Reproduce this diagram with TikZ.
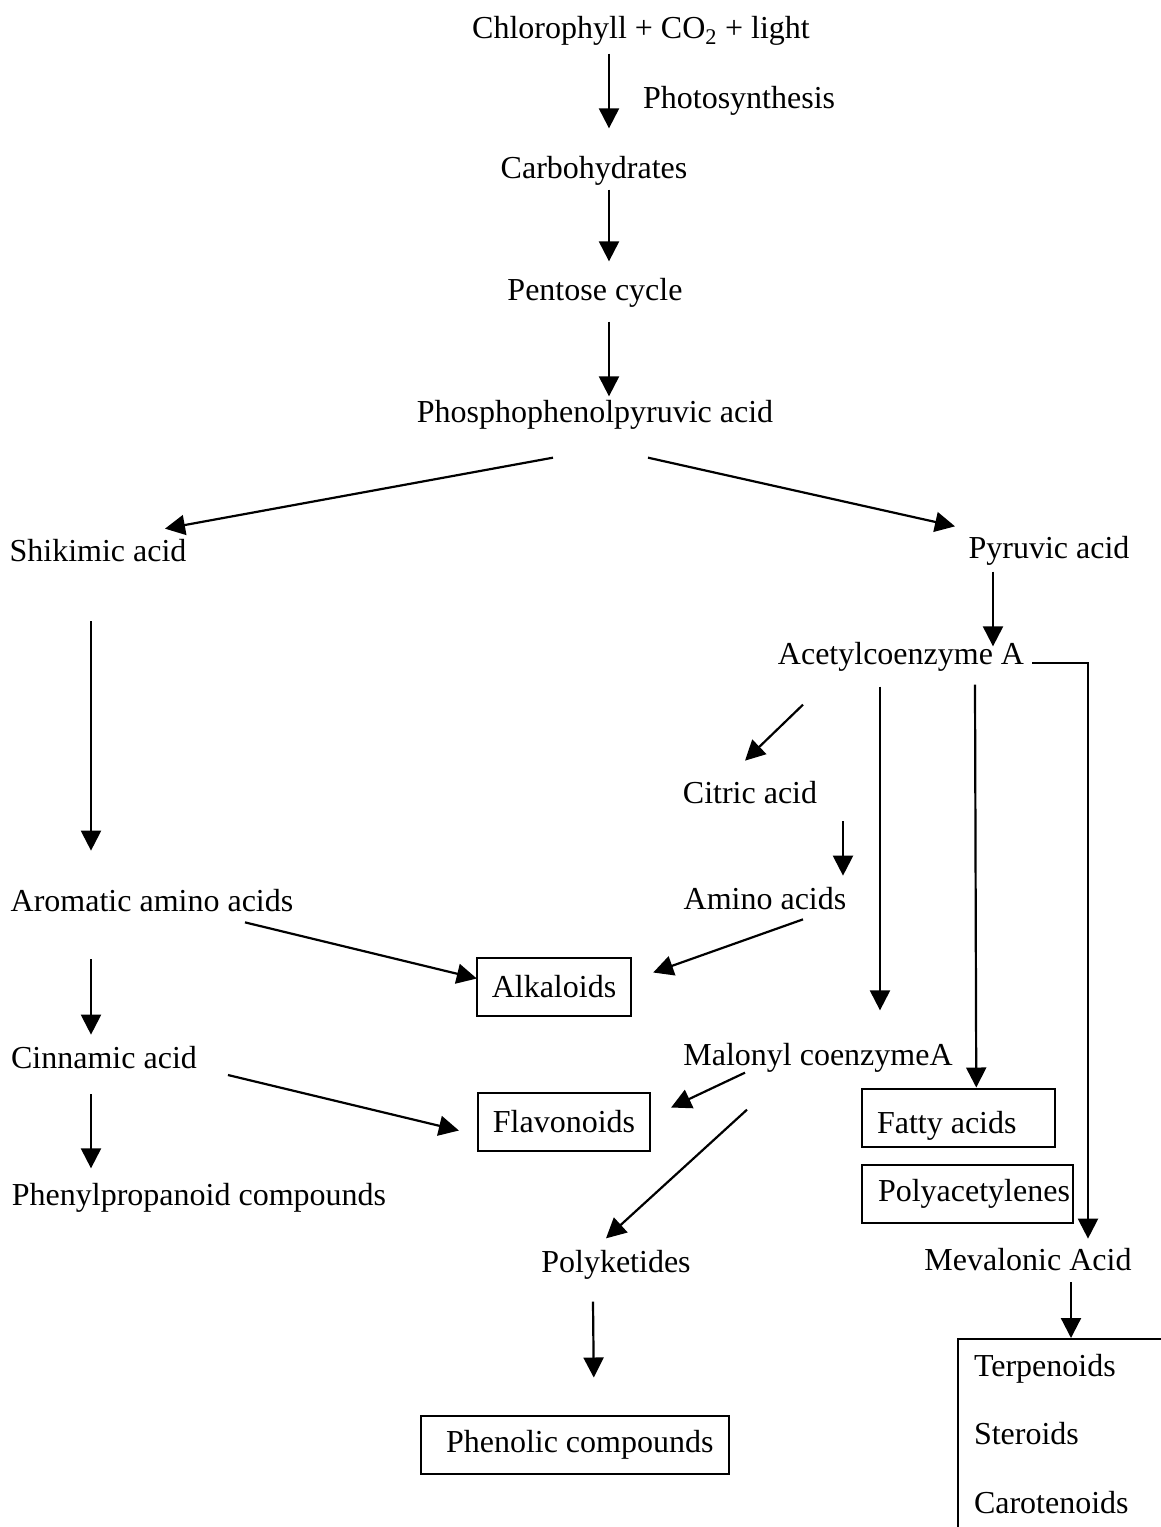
\documentclass[tikz,border=0pt]{standalone}
\usepackage{fontspec}
\setmainfont{Liberation Serif}
\usetikzlibrary{arrows.meta}

\begin{document}
\begin{tikzpicture}[x=1pt,y=-1pt,line width=2.2pt,
  lbl/.style={inner sep=0pt,font=\fontsize{32}{38}\selectfont},
  box/.style={lbl,draw,line width=2pt,inner xsep=15pt,minimum height=58pt},
  lbox/.style={box,anchor=west},
  flow/.style={-{Triangle[length=20pt,width=20pt]}}]

\useasboundingbox (0,0) rectangle (1161,1527);
\clip (0,0) rectangle (1161,1527);

% main stem
\node[lbl] (chl) at (641,31) {Chlorophyll + CO\textsubscript{2} + light};
\node[lbl,anchor=west] (photo) at (642,101) {Photosynthesis};
\node[lbl] (carb) at (594,171) {Carbohydrates};
\node[lbl] (pent) at (595,293) {Pentose cycle};
\node[lbl] (pep) at (595,415) {Phosphophenolpyruvic acid};

% left branch
\node[lbl] (shik) at (98,551) {Shikimic acid};
\node[lbl] (arom) at (152,901) {Aromatic amino acids};
\node[lbl] (cinn) at (104,1058) {Cinnamic acid};
\node[lbl] (phpr) at (199,1198) {Phenylpropanoid compounds};

% right branch
\node[lbl] (pyr) at (1049,551) {Pyruvic acid};
\node[lbl] (acoa) at (901,657) {Acetylcoenzyme A};
\node[lbl] (citr) at (750,793) {Citric acid};
\node[lbl] (amino) at (765,899) {Amino acids};
\node[lbl] (malo) at (818,1058) {Malonyl coenzymeA};
\node[lbl] (polyk) at (616,1265) {Polyketides};
\node[lbl] (meva) at (1028,1260) {Mevalonic Acid};

% end products
\node[box] (alk) at (554,986.5) {Alkaloids};
\node[box] (flav) at (564,1121.5) {Flavonoids};
\node[lbox,text height=22pt,text depth=0pt] (fatty) at (861,1117.5)
  {\raisebox{-4.5pt}{Fatty acids}\hspace*{23pt}};
\node[lbox,inner xsep=3pt] (polya) at (861,1193.5) {\hspace*{13pt}Polyacetylenes};
\node[lbox] (phen) at (420,1444.5) {\hspace*{10pt}Phenolic compounds};
\node[lbox,anchor=north west,align=left,text width=300pt,inner xsep=16pt,inner ysep=15pt,
  font=\fontsize{32}{68.5}\selectfont] (terp) at (957,1338)
  {Terpenoids\\Steroids\\Carotenoids\\\mbox{}};

% down the stem
\draw[flow] ([xshift=-32,yshift=-7]chl.south) -- ([xshift=15,yshift=27]carb.north);
\draw[flow] ([xshift=15,yshift=-3]carb.south) -- ([xshift=14,yshift=16]pent.north);
\draw[flow] ([xshift=14,yshift=-13]pent.south) -- ([xshift=14,yshift=3]pep.north);

% split
\draw[flow] ([xshift=-42,yshift=-27]pep.south) -- ([xshift=67,yshift=10]shik.north);
\draw[flow] ([xshift=53,yshift=-27]pep.south) -- ([xshift=-94,yshift=9]pyr.north);

% shikimate side
\draw[flow] ([xshift=-7,yshift=-58]shik.south) -- ([xshift=-61,yshift=38]arom.north);
\draw[flow] ([xshift=-61,yshift=-46]arom.south) -- ([xshift=-13,yshift=11]cinn.north);
\draw[flow] ([xshift=-13,yshift=-24]cinn.south) -- ([xshift=-108,yshift=14]phpr.north);
\draw[flow] ([xshift=93,yshift=-9]arom.south) -- ([xshift=1,yshift=8]alk.west);
\draw[flow] ([xshift=30,yshift=-17]cinn.east) -- ([xshift=-18,yshift=-9]flav.west);

% acetate side
\draw[flow] ([xshift=-56,yshift=-5]pyr.south) -- ([xshift=92,yshift=-5]acoa.north);
\draw[flow] ([xshift=7,yshift=-6]acoa.east) -| ([xshift=60,yshift=9]meva.north);
\draw[flow] ([xshift=-21,yshift=-14]acoa.south) -- ([xshift=62,yshift=32]malo.north);
\draw[flow] ([xshift=74,yshift=-12]acoa.south) -- ([xshift=18]fatty.north);
\draw[flow] ([xshift=-98,yshift=-32]acoa.south) -- ([xshift=-5,yshift=20]citr.north);
\draw[flow] ([xshift=93,yshift=-16]citr.south) -- ([xshift=78,yshift=11]amino.north);
\draw[flow] ([xshift=38,yshift=-8]amino.south) -- ([xshift=21,yshift=14]alk.east);
\draw[flow] ([xshift=-73,yshift=1]malo.south) -- ([xshift=20,yshift=14]flav.east);
\draw[flow] ([xshift=-71,yshift=-36]malo.south) -- ([xshift=-10,yshift=11]polyk.north);
\draw[flow] ([xshift=-23,yshift=-21]polyk.south) -- ([xshift=19,yshift=37]phen.north);
\draw[flow] ([xshift=43,yshift=-10]meva.south) -- ([xshift=114]terp.north west);

\end{tikzpicture}
\end{document}
